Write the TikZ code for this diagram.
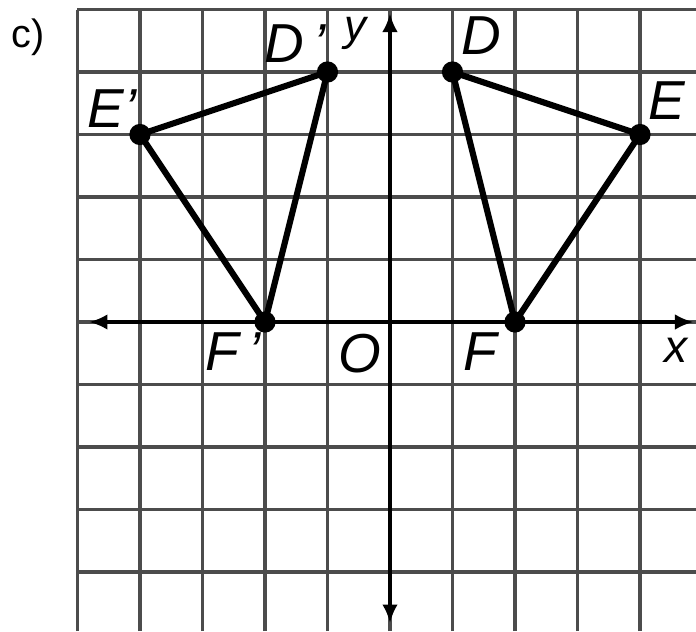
\documentclass[tikz,border=0pt]{standalone}
\usepackage{fontspec}
\setmainfont{Liberation Sans}
\usetikzlibrary{arrows.meta}
\begin{document}
\begin{tikzpicture}[x=1cm,y=1cm,
  dot/.style={circle,fill,inner sep=0pt,minimum size=.34cm},
  lbl/.style={font=\fontsize{25}{25}\selectfont\itshape},
  axis/.style={line width=2pt,{Latex[length=.3cm,width=.25cm]}-{Latex[length=.3cm,width=.25cm]}}]
\useasboundingbox (-6.24,-4.944) rectangle (4.896,5.152);
\draw[line width=1.4pt,black!70] (-5,-4.944) grid (4.896,5);
\draw[axis] (-4.82,0)--(4.86,0);
\draw[axis] (0,-4.82)--(0,4.94);
\node[dot] (Dp) at (-1,4) {};\node[dot] (Ep) at (-4,3) {};\node[dot] (Fp) at (-2,0) {};
\node[dot] (D) at (1,4) {};\node[dot] (E) at (4,3) {};\node[dot] (F) at (2,0) {};
\draw[line width=2.8pt,line join=round] (Dp.center)--(Ep.center)--(Fp.center)--cycle;
\draw[line width=2.8pt,line join=round] (D.center)--(E.center)--(F.center)--cycle;
\node[font=\fontsize{18}{18}\selectfont] (part) at (-5.79,4.56) {c)};
\node[lbl] (lDp) at (-1.52,4.45) {D\,'};\node[lbl] (lEp) at (-4.45,3.42) {E'};\node[lbl] (lFp) at (-2.51,-0.48) {F\,'};
\node[lbl] (lD) at (1.46,4.58) {D};\node[lbl] (lE) at (4.43,3.54) {E};\node[lbl] (lF) at (1.44,-0.48) {F};
\node[lbl] (lO) at (-0.48,-0.5) {O};\node[lbl,font=\fontsize{21}{21}\selectfont\itshape] (lx) at (4.58,-0.46) {x};
\node[font=\fontsize{20}{20}\selectfont\itshape] (ly) at (-0.55,4.62) {y};
\end{tikzpicture}
\end{document}
